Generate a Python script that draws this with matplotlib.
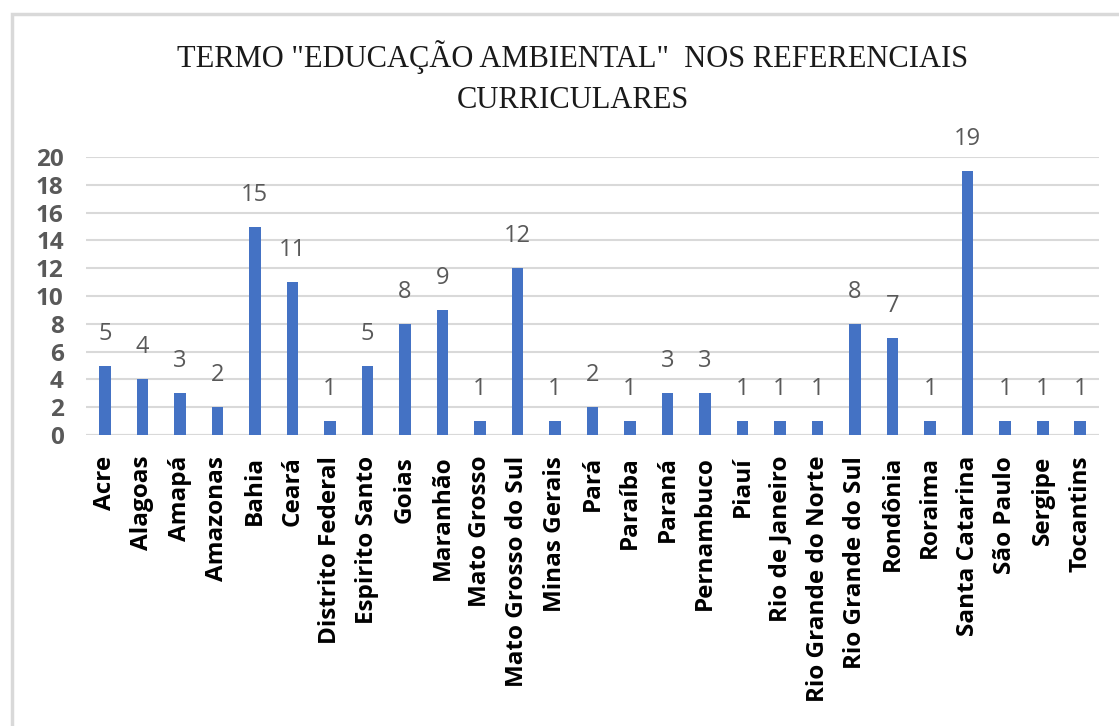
import matplotlib.pyplot as plt
from matplotlib.patches import Rectangle

estados = ['Acre', 'Alagoas', 'Amapá', 'Amazonas', 'Bahia', 'Ceará', 'Distrito Federal',
           'Espirito Santo', 'Goias', 'Maranhão', 'Mato Grosso', 'Mato Grosso do Sul',
           'Minas Gerais', 'Pará', 'Paraíba', 'Paraná', 'Pernambuco', 'Piauí',
           'Rio de Janeiro', 'Rio Grande do Norte', 'Rio Grande do Sul', 'Rondônia',
           'Roraima', 'Santa Catarina', 'São Paulo', 'Sergipe', 'Tocantins']
valores = [5, 4, 3, 2, 15, 11, 1, 5, 8, 9, 1, 12, 1, 2, 1, 3, 3, 1, 1, 1, 8, 7, 1, 19, 1, 1, 1]
y_ticks = list(range(0, 21, 2))

fig = plt.figure(figsize=(11.19, 7.26), dpi=100)
ax = fig.add_axes([0.0769, 0.4008, 0.9052, 0.3829])

x = range(len(estados))
ax.bar(x, valores, width=0.31, color='#4472C4', zorder=3)
for xi, v in zip(x, valores):
    ax.text(xi, v + 2.3, str(v), ha='center', va='center', fontsize=17,
            color='#595959', family='Open Sans')

ax.set_xlim(-0.5, len(estados) - 0.5)
ax.set_ylim(0, 20)
ax.set_yticks(y_ticks)
ax.set_yticklabels([str(t) for t in y_ticks], fontsize=17.5, fontweight='bold',
                   color='#595959', family='Open Sans')
ax.set_xticks(list(x))
ax.set_xticklabels(estados, rotation=90, fontsize=17.5, fontweight='bold', family='Open Sans')
ax.tick_params(axis='x', length=0, pad=15)
ax.tick_params(axis='y', length=0, pad=16)
ax.yaxis.grid(True, color='#D9D9D9', linewidth=1.5, zorder=0)
for s in ax.spines.values():
    s.set_visible(False)
ax.axhline(0, color='#D9D9D9', linewidth=1.5, zorder=2)

fig.text(0.512, 0.893, 'TERMO "EDUCAÇÃO AMBIENTAL"  NOS REFERENCIAIS\nCURRICULARES',
         ha='center', va='center', fontsize=22, family='Liberation Serif',
         linespacing=1.55, color='#1a1a1a')

fig.patches.append(Rectangle((0.0103, -0.1), 1.1, 1.0807, transform=fig.transFigure,
                             fill=False, edgecolor='#D9D9D9', linewidth=2.5))

fig.savefig('out.png', dpi=100)
